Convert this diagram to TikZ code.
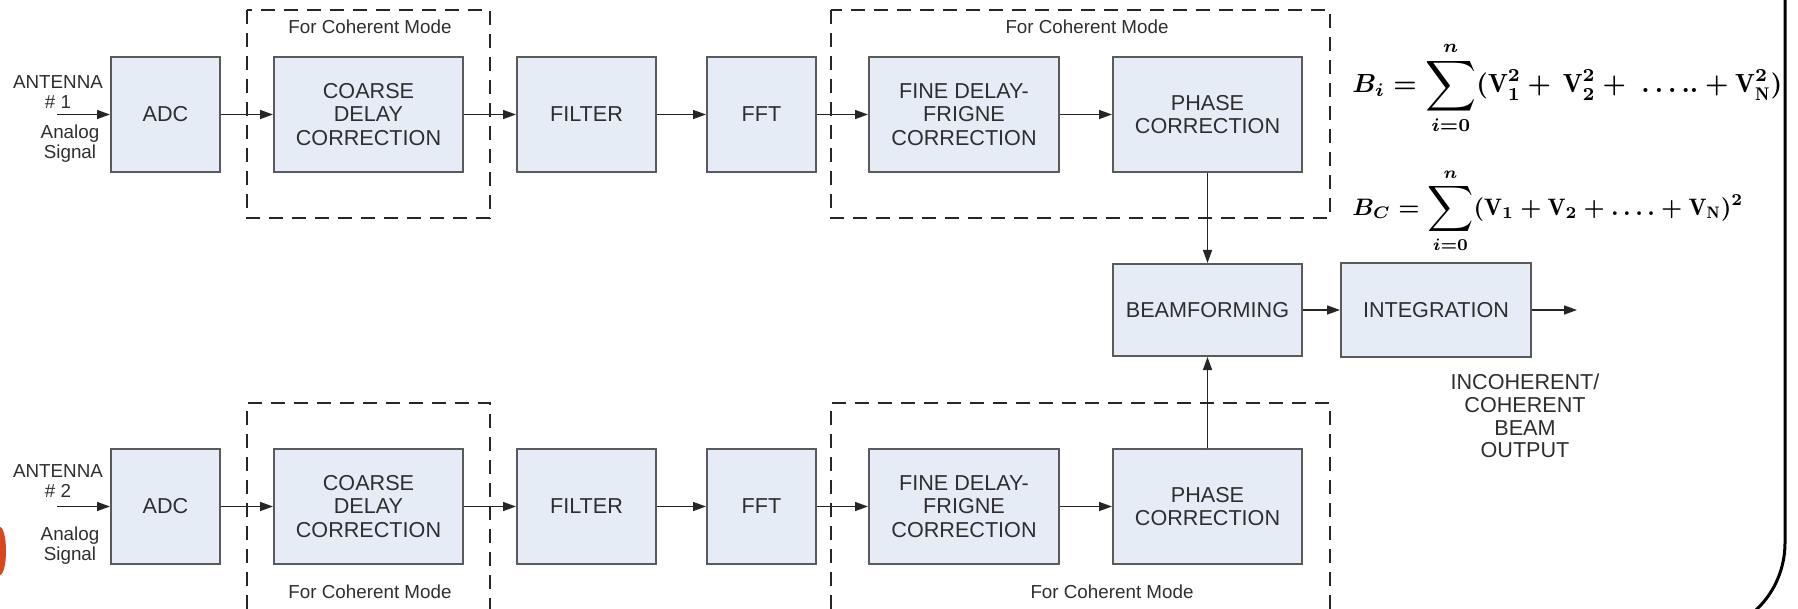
\documentclass[tikz,border=0pt]{standalone}
\usepackage{fontspec}
\usepackage{graphicx}
\usetikzlibrary{arrows.meta}
\newfontfamily\arialf{Liberation Sans}
\definecolor{boxfill}{HTML}{E6ECF6}
\definecolor{boxline}{HTML}{5A5A5A}
\definecolor{txt}{HTML}{2E2E2E}
\definecolor{orng}{HTML}{D9481C}
\newcommand{\mysum}{\mathop{\vcenter{\hbox{\scalebox{1.35}{$\displaystyle\sum$}}}}\limits}
\begin{document}
\begin{tikzpicture}[x=0.5pt,y=-0.5pt,
 blk/.style={draw=boxline, line width=1pt, fill=boxfill, inner sep=0pt, align=center, text=txt, font=\arialf\fontsize{10.8}{11.6}\selectfont},
 conn/.style={draw=black!85, line width=0.75pt, -{Triangle[length=6.5pt,width=4.5pt]}},
 dashbox/.style={draw=black!85, line width=1.3pt, dash pattern=on 7pt off 4.5pt},
 lbl/.style={text=txt, align=center, inner sep=0pt, font=\arialf\fontsize{9.4}{10}\selectfont},
 big/.style={text=txt, align=center, inner sep=0pt, font=\arialf\fontsize{10.8}{11.35}\selectfont}]
\useasboundingbox (0,0) rectangle (1798,609);

% dashed "coherent mode" frames
\draw[dashbox] (247,10) rectangle (490,218);
\draw[dashbox] (831,10) rectangle (1330,218);
\draw[dashbox] (247,609) -- (247,403) -- (490,403) -- (490,609);
\draw[dashbox] (831,609) -- (831,403) -- (1330,403) -- (1330,609);
\node[lbl] (m1) at (370,27) {For Coherent Mode};
\node[lbl] (m2) at (1087,27) {For Coherent Mode};
\node[lbl] (m3) at (370,592) {For Coherent Mode};
\node[lbl] (m4) at (1112,592) {For Coherent Mode};

% row 1
\node[blk, minimum width=54.5pt, minimum height=57.5pt] (adc1) at (165.5,114.5) {ADC};
\node[blk, minimum width=94.5pt, minimum height=57.5pt] (coarse1) at (368.5,114.5) {COARSE\\DELAY\\CORRECTION};
\node[blk, minimum width=69.5pt, minimum height=57.5pt] (filt1) at (586.5,114.5) {FILTER};
\node[blk, minimum width=54.5pt, minimum height=57.5pt] (fft1) at (761.5,114.5) {FFT};
\node[blk, minimum width=95pt, minimum height=57.5pt] (fine1) at (964,114.5) {FINE DELAY-\\FRIGNE\\CORRECTION};
\node[blk, minimum width=94.5pt, minimum height=57.5pt] (phase1) at (1207.5,114.5) {PHASE\\CORRECTION};

% row 2
\node[blk, minimum width=54.5pt, minimum height=57.5pt] (adc2) at (165.5,506.5) {ADC};
\node[blk, minimum width=94.5pt, minimum height=57.5pt] (coarse2) at (368.5,506.5) {COARSE\\DELAY\\CORRECTION};
\node[blk, minimum width=69.5pt, minimum height=57.5pt] (filt2) at (586.5,506.5) {FILTER};
\node[blk, minimum width=54.5pt, minimum height=57.5pt] (fft2) at (761.5,506.5) {FFT};
\node[blk, minimum width=95pt, minimum height=57.5pt] (fine2) at (964,506.5) {FINE DELAY-\\FRIGNE\\CORRECTION};
\node[blk, minimum width=94.5pt, minimum height=57.5pt] (phase2) at (1207.5,506.5) {PHASE\\CORRECTION};

% combining stages
\node[blk, minimum width=94.5pt, minimum height=46pt] (beam) at (1207.5,310) {BEAMFORMING};
\node[blk, minimum width=95pt, minimum height=46.5pt] (integ) at (1436,310) {INTEGRATION};
\coordinate (out) at (1577,310);
\node[big] (outtxt) at (1525,416) {INCOHERENT/\\COHERENT\\BEAM\\OUTPUT};

% antenna inputs
\node[lbl] (ant1) at (58,92) {ANTENNA\\\# 1};
\node[lbl] (sig1) at (70,144) {Analog\\Signal};
\coordinate (in1) at (57,114.5);
\node[lbl] (ant2) at (58,481) {ANTENNA\\\# 2};
\node[lbl] (sig2) at (70,546) {Analog\\Signal};
\coordinate (in2) at (57,506.5);

% connectors
\draw[conn] (in1) -- (adc1);
\draw[conn] (adc1) -- (coarse1);
\draw[conn] (coarse1) -- (filt1);
\draw[conn] (filt1) -- (fft1);
\draw[conn] (fft1) -- (fine1);
\draw[conn] (fine1) -- (phase1);
\draw[conn] (in2) -- (adc2);
\draw[conn] (adc2) -- (coarse2);
\draw[conn] (coarse2) -- (filt2);
\draw[conn] (filt2) -- (fft2);
\draw[conn] (fft2) -- (fine2);
\draw[conn] (fine2) -- (phase2);
\draw[conn] (phase1) -- (beam);
\draw[conn] (phase2) -- (beam);
\draw[conn] (beam) -- (integ);
\draw[conn] (integ) -- (out);

% formulas
\node[anchor=west, inner sep=0pt] (fi) at (1352,88) {\resizebox{215pt}{!}{\boldmath$\displaystyle B_i = \mysum_{i=0}^{n}(\mathrm{V}_1^2+\,\mathrm{V}_2^2+\ \ldots..+\mathrm{V}_\mathrm{N}^2)$}};
\node[anchor=west, inner sep=0pt] (fc) at (1352,211) {\resizebox{195.5pt}{!}{\boldmath$\displaystyle B_C = \mysum_{i=0}^{n}(\mathrm{V}_1+\mathrm{V}_2+\ldots.+\mathrm{V}_\mathrm{N})^2$}};

% frame fragments
\draw[line width=1.5pt, black] (1785,0) -- (1785,543) arc[start angle=0, end angle=50, radius=92];
\fill[orng] (0,551) circle[x radius=6, y radius=24];
\end{tikzpicture}
\end{document}
